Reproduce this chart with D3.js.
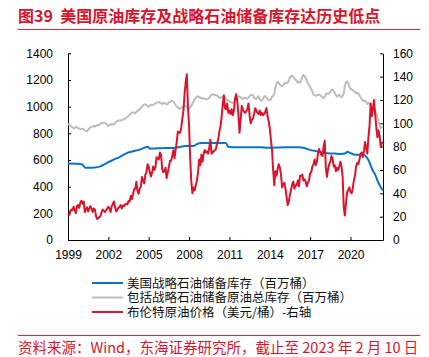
<!DOCTYPE html>
<html><head><meta charset="utf-8">
<script src="https://cdn.jsdelivr.net/npm/d3@7"></script>
<style>
html,body{margin:0;padding:0;background:#fff;}
svg{display:block;}
</style></head>
<body><svg id="c" width="429" height="357"></svg>
<script>
// ---- DATA ----
const title = "图39  美国原油库存及战略石油储备库存达历史低点";
const source = "资料来源：Wind，东海证券研究所，截止至 2023 年 2 月 10 日";
const seriesNames = ["美国战略石油储备库存（百万桶）", "包括战略石油储备原油总库存（百万桶）", "布伦特原油价格（美元/桶）-右轴"];
const startYear = 1999, startMonth = 9; // monthly data from Sep 1999 to Feb 2023
const xTickYears = [1999, 2002, 2005, 2008, 2011, 2014, 2017, 2020];
const leftTicks = [0, 200, 400, 600, 800, 1000, 1200, 1400];
const rightTicks = [0, 20, 40, 60, 80, 100, 120, 140, 160];

// Brent crude (USD/bbl), monthly, Sep 1999 .. Feb 2023
const brent = [
  22.5, 21.5, 24.5, 26,
  25.5, 28.5, 26, 23, 29, 30, 27.5, 32, 33.5, 31, 33, 24,
  26, 28, 24.5, 27, 29, 27, 24, 27, 26, 20.5, 18, 19,
  19.5, 20.5, 24, 26, 25, 24, 25.5, 27, 28.5, 27, 24, 29,
  31, 33, 28, 24.5, 26, 27.5, 28.5, 30, 27, 29.5, 29, 30.5,
  31, 30.5, 33.5, 33, 38, 35, 39, 43.5, 44, 50, 42, 39.5,
  44, 46, 54, 51, 48.5, 56, 58, 65, 63, 58, 54.5, 57.5,
  63, 60, 62.5, 71, 70, 69, 75, 73, 61, 58, 59, 62,
  53, 58, 62.5, 68, 68, 72, 77, 70, 77.5, 84, 93, 92,
  92, 96, 104, 111, 125, 135, 142, 114, 98, 70, 50, 40,
  45, 42.5, 47, 51, 58, 69, 64, 73, 67, 74, 77, 75,
  76, 74, 79, 86, 74, 75, 76, 77, 78, 83, 86, 93,
  97, 105, 116, 124, 113, 112, 117, 109, 111, 108, 112, 107,
  111, 121, 125, 119, 108, 92, 103, 115, 112, 110, 109, 110,
  112, 117, 107, 100, 103, 104, 108, 113, 111, 109, 108, 111,
  107, 109, 107, 108, 110, 113, 106, 102, 96, 86, 77, 60,
  47, 59, 55, 61, 65, 62, 56, 45, 48, 49, 44, 37,
  30, 33, 39, 43, 48, 50, 44, 47, 47, 51, 46, 55,
  55, 56, 51, 52, 50, 46, 49, 51, 57, 58, 63, 65,
  69, 64, 67, 74, 78, 75, 73, 72, 80, 85, 62, 54,
  61, 65, 67, 72, 70, 63, 64, 59, 62, 60, 63, 67,
  63, 54, 28, 21, 32, 41, 43, 45, 41, 40, 44, 51,
  55, 63, 66, 65, 69, 74, 75, 71, 76, 84, 79, 74,
  88, 98, 117, 106, 112, 120, 108, 97, 88, 94, 89, 80,
  83, 84
];

// Total US crude stocks incl. SPR (million bbl), monthly, Sep 1999 .. Feb 2023
const totalStocks = [
  872, 866, 858, 850,
  845, 838, 840, 848, 845, 840, 835, 830, 832, 835, 830, 820,
  818, 815, 825, 835, 845, 850, 852, 855, 850, 858, 862, 860,
  865, 872, 878, 880, 880, 878, 872, 862, 855, 860, 865, 872,
  870, 865, 878, 885, 892, 895, 898, 895, 898, 905, 905, 910,
  915, 922, 932, 940, 948, 955, 958, 955, 948, 962, 968, 975,
  980, 990, 1000, 1010, 1015, 1018, 1012, 1005, 1000, 1010, 1015, 1010,
  1012, 1018, 1025, 1030, 1032, 1035, 1030, 1025, 1022, 1025, 1028, 1022,
  1018, 1020, 1030, 1035, 1040, 1045, 1040, 1025, 1012, 1000, 995, 985,
  985, 990, 995, 1005, 1008, 1002, 998, 995, 985, 995, 1005, 1020,
  1040, 1055, 1065, 1075, 1078, 1070, 1068, 1060, 1065, 1062, 1058, 1055,
  1055, 1058, 1068, 1080, 1090, 1092, 1090, 1088, 1085, 1082, 1078, 1062,
  1068, 1070, 1072, 1075, 1072, 1058, 1045, 1050, 1040, 1035, 1030, 1028,
  1035, 1040, 1055, 1068, 1075, 1078, 1070, 1062, 1058, 1065, 1068, 1060,
  1058, 1068, 1078, 1088, 1090, 1085, 1068, 1060, 1058, 1070, 1078, 1055,
  1045, 1048, 1058, 1075, 1080, 1070, 1060, 1050, 1048, 1055, 1075, 1078,
  1100, 1140, 1170, 1185, 1178, 1165, 1158, 1152, 1160, 1175, 1180, 1175,
  1182, 1195, 1220, 1228, 1232, 1222, 1210, 1200, 1195, 1180, 1188, 1180,
  1192, 1222, 1238, 1230, 1215, 1195, 1175, 1160, 1150, 1130, 1115, 1090,
  1085, 1080, 1085, 1090, 1090, 1085, 1078, 1070, 1062, 1075, 1095, 1100,
  1095, 1100, 1110, 1125, 1128, 1120, 1105, 1085, 1075, 1085, 1090, 1078,
  1070, 1080, 1100, 1160, 1180, 1190, 1175, 1150, 1135, 1130, 1125, 1115,
  1110, 1100, 1105, 1100, 1085, 1070, 1060, 1048, 1040, 1045, 1035, 1020,
  1030, 1020, 1005, 1000, 995, 985, 970, 950, 920, 890, 860, 840,
  845, 850
];

// Strategic Petroleum Reserve (million bbl), breakpoints
const sprDates = [1999.67, 2000.3, 2000.75, 2000.95, 2001.5, 2002.0, 2002.5, 2003.0, 2003.5, 2004.0, 2004.5, 2005.0, 2005.6, 2005.75, 2006.0, 2007.0, 2007.5, 2008.0, 2008.4, 2009.0, 2009.3, 2009.6, 2010.0, 2011.4, 2011.6, 2012.0, 2014.0, 2014.5, 2016.0, 2016.8, 2017.3, 2017.8, 2018.2, 2018.9, 2019.5, 2019.9, 2020.3, 2020.45, 2020.6, 2020.8, 2021.0, 2021.6, 2022.0, 2022.3, 2022.5, 2022.75, 2022.9, 2023.08];
const sprValues = [573, 571, 565, 541, 542, 550, 575, 600, 622, 650, 665, 678, 700, 685, 686, 689, 690, 698, 705, 705, 722, 727, 728, 728, 697, 696, 696, 692, 695, 695, 688, 672, 665, 650, 648, 645, 650, 662, 655, 645, 640, 640, 600, 525, 490, 427, 400, 372];

// ---- CHART ----
const svg = d3.select("#c");
const red = "#d9142b", blue = "#0b72c7", gray = "#bdbdbd", lineRed = "#e0283a";
const cjk = "'Noto Sans CJK SC', 'Noto Sans', sans-serif";
const latin = "'Liberation Sans', Arial, sans-serif";

const t0 = startYear + (startMonth - 1) / 12;
const tOf = i => t0 + i / 12;
const tEnd = tOf(brent.length - 1);

const x = d3.scaleLinear().domain([t0, tEnd]).range([68, 383]);
const yL = d3.scaleLinear().domain([0, 1400]).range([240, 53.3]);
const yR = d3.scaleLinear().domain([0, 160]).range([240, 53.3]);

// title
svg.append("text").attr("x", 18).attr("y", 22).text(title)
  .style("white-space", "pre")
  .attr("fill", red).attr("font-family", cjk).attr("font-weight", "bold").attr("font-size", 16);
svg.append("line").attr("x1", 18).attr("x2", 420).attr("y1", 29.5).attr("y2", 29.5)
  .attr("stroke", lineRed).attr("stroke-width", 1);

// axes
const gL = svg.append("g").attr("transform", "translate(68,0)")
  .call(d3.axisLeft(yL).tickValues(leftTicks).tickFormat(d3.format("d")).tickSizeInner(-3).tickSizeOuter(0).tickPadding(15));
const gR = svg.append("g").attr("transform", "translate(383,0)")
  .call(d3.axisRight(yR).tickValues(rightTicks).tickFormat(d3.format("d")).tickSizeInner(-3).tickSizeOuter(0).tickPadding(10));
const gB = svg.append("g").attr("transform", "translate(0,240)")
  .call(d3.axisBottom(x).tickValues(xTickYears.map(yv => t0 + (yv - startYear))).tickFormat((d, i) => xTickYears[i])
    .tickSizeInner(-3).tickSizeOuter(0).tickPadding(10));
[gL, gR, gB].forEach(g => {
  g.selectAll("text").attr("font-family", latin).attr("font-size", 12).attr("fill", "#000");
  g.selectAll("line,path").attr("stroke", "#000").attr("stroke-width", 1);
});

// lines
const lineL = d3.line().x(d => x(d[0])).y(d => yL(d[1]));
const lineR = d3.line().x(d => x(d[0])).y(d => yR(d[1]));
const grayData = totalStocks.map((v, i) => [tOf(i), v]);
const blueData = sprValues.map((v, i) => [sprDates[i], v]);
const redData = brent.map((v, i) => [tOf(i), v]);

svg.append("path").datum(grayData).attr("d", lineL).attr("fill", "none")
  .attr("stroke", gray).attr("stroke-width", 2).attr("stroke-linejoin", "round");
svg.append("path").datum(blueData).attr("d", d3.line().x(d => x(d[0])).y(d => yL(d[1])).curve(d3.curveMonotoneX)).attr("fill", "none")
  .attr("stroke", blue).attr("stroke-width", 2).attr("stroke-linejoin", "round");
svg.append("path").datum(redData).attr("d", lineR).attr("fill", "none")
  .attr("stroke", red).attr("stroke-width", 2).attr("stroke-linejoin", "round");

// legend
const legColors = [blue, gray, red];
const legY = [283, 297.5, 312];
seriesNames.forEach((n, i) => {
  svg.append("line").attr("x1", 92).attr("x2", 123).attr("y1", legY[i]).attr("y2", legY[i])
    .attr("stroke", legColors[i]).attr("stroke-width", 2);
  svg.append("text").attr("x", 127).attr("y", legY[i] + 4.5).text(n)
    .attr("font-family", cjk).attr("font-size", 12.5).attr("fill", "#111");
});

// footer
svg.append("line").attr("x1", 18).attr("x2", 420).attr("y1", 335.5).attr("y2", 335.5)
  .attr("stroke", lineRed).attr("stroke-width", 1);
svg.append("text").attr("x", 18).attr("y", 353).text(source)
  .attr("fill", red).attr("font-family", cjk).attr("font-size", 14.5);
</script>
</body></html>
